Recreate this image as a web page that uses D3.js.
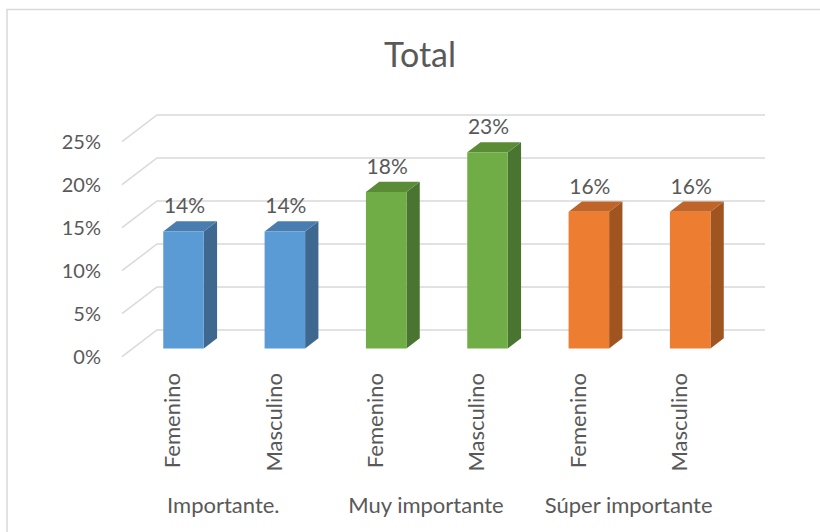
<!DOCTYPE html>
<html><head><meta charset="utf-8">
<script src="https://cdn.jsdelivr.net/npm/d3@7"></script>
<style>body{margin:0;background:#fff}svg{display:block}text{font-family:Lato,"Open Sans",sans-serif;fill:#595959}</style>
</head><body><svg id="c" width="820" height="532"></svg>
<script>
const groups = ["Importante.", "Muy importante", "Súper importante"];
const genders = ["Femenino", "Masculino"];
const values = [0.136, 0.136, 0.182, 0.228, 0.159, 0.159];
const yTicks = [0, 0.05, 0.10, 0.15, 0.20, 0.25];
const frontColors = ["#5B9BD5", "#70AD47", "#ED7D31"];
const topColors = ["#4A7DAF", "#5A8C37", "#C0652A"];
const sideColors = ["#3E6890", "#4A7530", "#A0541F"];

const rows = [];
groups.forEach((g, gi) => genders.forEach((s, si) => rows.push({g, gi, s, i: gi * 2 + si, v: values[gi * 2 + si]})));

const svg = d3.select("#c");
svg.append("rect").attr("x", 7).attr("y", 9.5).attr("width", 830).attr("height", 540)
  .attr("fill", "#fff").attr("stroke", "#d9d9d9").attr("stroke-width", 1.5);

svg.append("text").attr("x", 420).attr("y", 67).attr("text-anchor", "middle")
  .style("font-size", "34px").text("Total");

const x0 = 122, y0 = 356.7, dX = 35, dY = -26.7;
const y = d3.scaleLinear().domain([0, 0.25]).range([0, 215]);
const xb = d3.scaleBand().domain(rows.map(r => r.i)).range([0, 608]).paddingInner(0.6).paddingOuter(0.3);
const pt = (x, h, t) => [x0 + x + t * dX, y0 - h + t * dY];

const grid = svg.append("g").attr("stroke", "#d9d9d9").attr("stroke-width", 1.5).attr("fill", "none");
yTicks.forEach(v => {
  const a = pt(0, y(v), 0), b = pt(0, y(v), 1), c = pt(608, y(v), 1);
  grid.append("path").attr("d", d3.line()([a, b, c]));
});
svg.append("g").selectAll("text").data(yTicks).join("text")
  .attr("x", 101).attr("y", d => pt(0, y(d), 0)[1]).attr("dy", "0.35em")
  .attr("text-anchor", "end").style("font-size", "20px")
  .text(d3.format(".0%"));

const t1 = 0.31, t2 = 0.69;
const bars = svg.append("g");
rows.forEach(r => {
  const xl = xb(r.i), xr = xl + xb.bandwidth(), h = y(r.v);
  const line = d3.line();
  const f = [pt(xl, 0, t1), pt(xr, 0, t1), pt(xr, h, t1), pt(xl, h, t1)];
  const side = [pt(xr, 0, t1), pt(xr, 0, t2), pt(xr, h, t2), pt(xr, h, t1)];
  const top = [pt(xl, h, t1), pt(xr, h, t1), pt(xr, h, t2), pt(xl, h, t2)];
  bars.append("path").attr("d", line(side) + "Z").attr("fill", sideColors[r.gi]);
  bars.append("path").attr("d", line(top) + "Z").attr("fill", topColors[r.gi]);
  bars.append("path").attr("d", line(f) + "Z").attr("fill", frontColors[r.gi]);
  const lp = pt(xl + xb.bandwidth() / 2, h, t2);
  bars.append("text").attr("x", pt(xl + xb.bandwidth() / 2, h, t1)[0] + 1).attr("y", lp[1] - 8)
    .attr("text-anchor", "middle").style("font-size", "21px").text(d3.format(".0%")(r.v));
});

// category labels on the front plane
const xc = d3.scaleBand().domain(rows.map(r => r.i)).range([x0, x0 + 608]);
svg.append("g").selectAll("text").data(rows).join("text")
  .attr("transform", d => `translate(${xc(d.i) + xc.bandwidth() / 2},373) rotate(-90)`)
  .attr("dy", "0.35em").attr("text-anchor", "end").style("font-size", "22px")
  .text(d => d.s);
const xg = d3.scaleBand().domain(groups).range([x0, x0 + 608]);
svg.append("g").selectAll("text").data(groups).join("text")
  .attr("x", d => xg(d) + xg.bandwidth() / 2).attr("y", 513)
  .attr("text-anchor", "middle").style("font-size", "22px").text(d => d);
</script></body></html>
